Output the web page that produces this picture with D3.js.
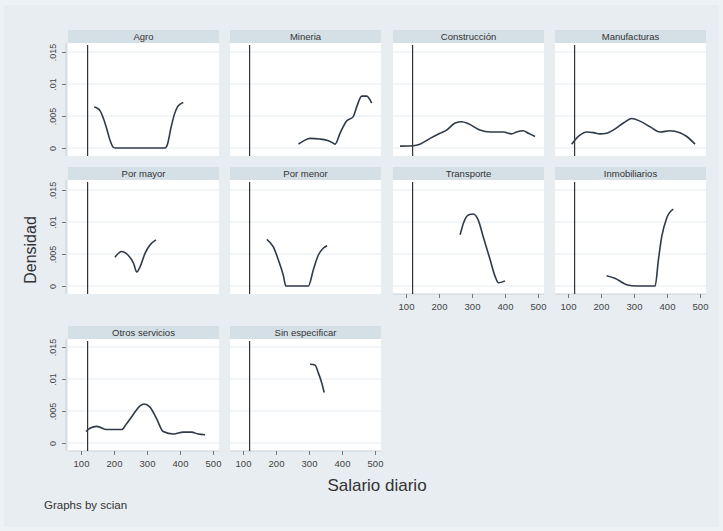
<!DOCTYPE html>
<html>
<head>
<meta charset="utf-8">
<script src="https://cdn.jsdelivr.net/npm/d3@7"></script>
<style>
  html, body { margin: 0; padding: 0; background: #eef2f5; }
  svg { display: block; }
  text { font-family: "Liberation Sans", Arial, sans-serif; }
</style>
</head>
<body>
<svg id="chart" width="723" height="531"></svg>
<script>
// ---- Data ----
const categories = ["Agro", "Mineria", "Construcción", "Manufacturas", "Por mayor", "Por menor",
                    "Transporte", "Inmobiliarios", "Otros servicios", "Sin especificar"];
const xTicks = [100, 200, 300, 400, 500];
const yTicks = [0, 0.005, 0.01, 0.015];
const yTickLabels = ["0", ".005", ".01", ".015"];
const refLine = 120;

const agro = [[140,.0064],[150,.0062],[158,.0058],[168,.0046],[178,.0030],[188,.0012],[198,.0001],[205,0],[355,0],[362,.0006],[372,.0030],[382,.0051],[392,.0064],[402,.0069],[410,.0071]];
const mineria = [[268,.0006],[280,.0010],[303,.0015],[333,.0014],[354,.0012],[372,.0008],[379,.0006],[394,.0023],[414,.0042],[434,.0049],[445,.0065],[460,.0081],[475,.0081],[490,.0070]];
const construccion = [[82,.0003],[122,.00036],[142,.0006],[173,.0015],[203,.0023],[223,.0028],[249,.0039],[269,.0041],[289,.0038],[324,.0028],[355,.0025],[395,.0025],[420,.0022],[435,.0025],[455,.0027],[471,.0023],[491,.0018]];
const manufacturas = [[111,.0006],[136,.0020],[157,.0025],[177,.0024],[197,.0022],[217,.0023],[237,.0028],[268,.0039],[293,.0046],[318,.0042],[349,.0033],[379,.0025],[409,.0027],[439,.0024],[460,.0018],[485,.0006]];
const porMayor = [[203,.0045],[223,.0054],[243,.0048],[259,.0036],[269,.0022],[279,.0030],[294,.0051],[309,.0064],[327,.0072]];
const porMenor = [[172,.0073],[192,.0061],[207,.0041],[222,.0017],[230,0],[298,0],[313,.0025],[328,.0048],[343,.0059],[355,.0063]];
const transporte = [[264,.0080],[274,.0098],[289,.0111],[304,.01125],[319,.0103],[334,.0077],[355,.0041],[370,.0015],[380,.0005],[400,.0008]];
const inmobiliarios = [[217,.0016],[242,.0012],[278,.0002],[308,0],[364,0],[374,.0041],[384,.0077],[399,.0106],[419,.0120]];
const otrosServicios = [[115,.0018],[127,.0023],[148,.0026],[178,.0021],[223,.0021],[238,.0030],[259,.0045],[279,.0058],[291,.0061],[309,.0056],[329,.0038],[349,.0018],[380,.0014],[410,.0017],[435,.0017],[455,.0014],[476,.0013]];
const sinEspecificar = [[303,.0123],[318,.0122],[328,.0110],[338,.0095],[346,.0079]];

const series = [agro, mineria, construccion, manufacturas, porMayor, porMenor,
                transporte, inmobiliarios, otrosServicios, sinEspecificar];

// ---- Layout ----
const W = 723, H = 531;
const colLeft = [68, 230, 393, 555];
const panelW = 151;
const headerTop = [30, 167, 326];
const headerH = 13;
const zeroY = [148, 286, 443];
const svg = d3.select("#chart");

svg.append("rect").attr("x", 0).attr("y", 0).attr("width", W).attr("height", H).attr("fill", "#eef2f5");
svg.append("rect").attr("x", 4).attr("y", 5).attr("width", W - 8).attr("height", H - 9).attr("fill", "#e7edf1");

const line = d3.line().curve(d3.curveMonotoneX);

categories.forEach((cat, i) => {
  const row = Math.floor(i / 4), col = i % 4;
  const left = colLeft[col];
  const top = headerTop[row];
  const plotTop = top + headerH;
  const z = zeroY[row];
  const plotBottom = z + 8;

  const x = d3.scaleLinear().domain([100, 500]).range([left + 13, left + 145]);
  const y = d3.scaleLinear().domain([0, 0.015]).range([z, z - 96]);

  const g = svg.append("g");
  // header
  g.append("rect").attr("x", left).attr("y", top).attr("width", panelW).attr("height", headerH)
    .attr("fill", "#d5dfe6");
  g.append("text").attr("x", left + panelW / 2).attr("y", top + headerH / 2 + 3.5)
    .attr("text-anchor", "middle").attr("font-size", 9.5).attr("fill", "#333")
    .text(cat);
  // plot area
  g.append("rect").attr("x", left).attr("y", plotTop).attr("width", panelW).attr("height", plotBottom - plotTop)
    .attr("fill", "#ffffff");
  // gridlines
  g.selectAll(".grid").data(yTicks).join("line")
    .attr("x1", left).attr("x2", left + panelW)
    .attr("y1", d => y(d)).attr("y2", d => y(d))
    .attr("stroke", "#e6ecf0").attr("stroke-width", 1);

  // y axis for first column
  if (col === 0) {
    const ya = g.append("g").attr("transform", `translate(${left - 2},0)`)
      .call(d3.axisLeft(y).tickValues(yTicks).tickSize(4).tickFormat((d, k) => yTickLabels[k]));
    ya.select(".domain").attr("stroke", "#c8d2d9").attr("d", `M0,${plotTop}V${plotBottom}`);
    ya.selectAll(".tick line").attr("stroke", "#777");
    ya.selectAll(".tick text").attr("font-size", 9).attr("fill", "#444")
      .attr("font-family", "Liberation Sans, Arial, sans-serif")
      .attr("transform", "rotate(-90)").attr("text-anchor", "middle")
      .attr("x", 0).attr("y", -10).attr("dy", 0);
  }
  // x axis where shown
  const hasX = (row === 2) || (row === 1 && col >= 2);
  if (hasX) {
    const xa = g.append("g").attr("transform", `translate(0,${plotBottom})`)
      .call(d3.axisBottom(x).tickValues(xTicks).tickSize(4).tickFormat(d3.format("d")));
    xa.select(".domain").attr("stroke", "#c8d2d9").attr("d", `M${left},0H${left + panelW}`);
    xa.selectAll(".tick line").attr("stroke", "#777");
    xa.selectAll(".tick text").attr("font-size", 9.5).attr("fill", "#444")
      .attr("font-family", "Liberation Sans, Arial, sans-serif").attr("dy", "0.95em");
  }
  // reference line
  g.append("line").attr("x1", x(refLine)).attr("x2", x(refLine))
    .attr("y1", plotTop + 2).attr("y2", plotBottom)
    .attr("stroke", "#333").attr("stroke-width", 1.2);
  // density curve
  g.append("path").datum(series[i].map(d => [x(d[0]), y(d[1])]))
    .attr("d", line).attr("fill", "none")
    .attr("stroke", "#2f3a48").attr("stroke-width", 1.6);
});

// axis titles and note
svg.append("text").attr("transform", "translate(36,250) rotate(-90)")
  .attr("text-anchor", "middle").attr("font-size", 16).attr("fill", "#333")
  .attr("font-family", "Open Sans, Liberation Sans, sans-serif").text("Densidad");
svg.append("text").attr("x", 377).attr("y", 491)
  .attr("text-anchor", "middle").attr("font-size", 17).attr("fill", "#333")
  .attr("font-family", "Open Sans, Liberation Sans, sans-serif").text("Salario diario");
svg.append("text").attr("x", 44).attr("y", 509)
  .attr("font-size", 11.5).attr("fill", "#333")
  .attr("font-family", "Open Sans, Liberation Sans, sans-serif").text("Graphs by scian");
</script>
</body>
</html>
